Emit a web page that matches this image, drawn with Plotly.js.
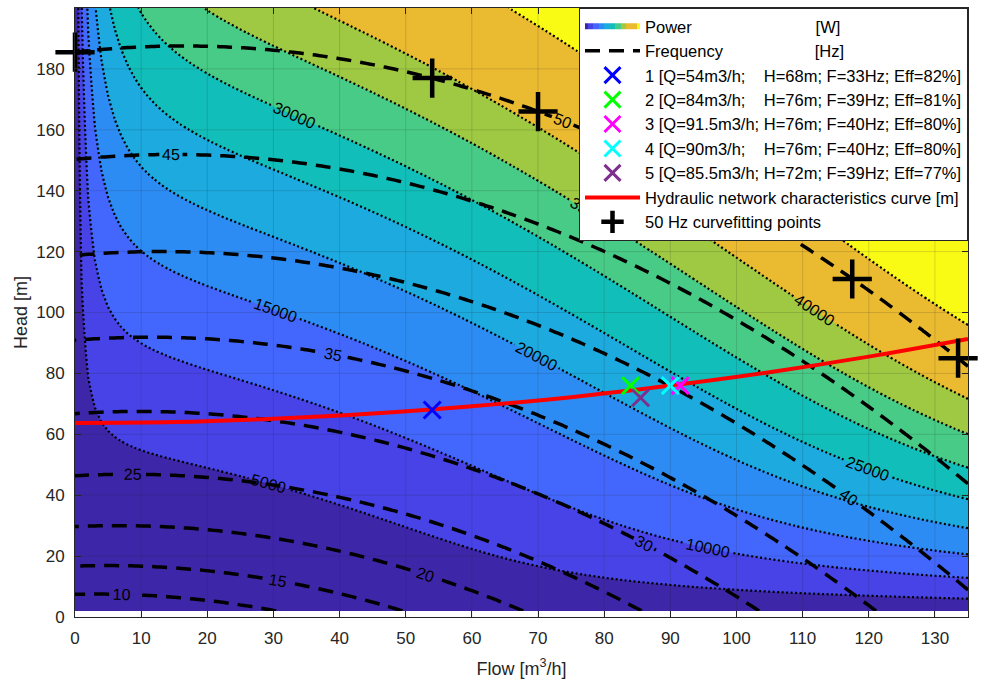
<!DOCTYPE html>
<html>
<head>
<meta charset="utf-8">
<script src="https://cdn.plot.ly/plotly-3.0.1.min.js"></script>
<style>
html,body{margin:0;padding:0;background:#ffffff;}
#chart{width:983px;height:685px;}
</style>
</head>
<body>
<div id="chart"></div>
<script>
// ---------------- data ----------------
// 50 Hz curve-fitting points (black crosses)
const fitFlow = [0, 54, 70, 117.5, 133.5];
const fitHead = [185.5, 177, 166, 111, 85];

// operating points
const pointLabels = [
  "1 [Q=54m3/h;\u00A0\u00A0\u00A0\u00A0H=68m; F=33Hz; Eff=82%]",
  "2 [Q=84m3/h;\u00A0\u00A0\u00A0\u00A0H=76m; F=39Hz; Eff=81%]",
  "3 [Q=91.5m3/h; H=76m; F=40Hz; Eff=80%]",
  "4 [Q=90m3/h;\u00A0\u00A0\u00A0\u00A0H=76m; F=40Hz; Eff=80%]",
  "5 [Q=85.5m3/h; H=72m; F=39Hz; Eff=77%]"
];
const pointFlow = [54, 84, 91.5, 90, 85.5];
const pointHead = [68, 76, 76, 76, 72];
const pointEff  = [82, 81, 80, 80, 77];
const pointColors = ["#0000ff", "#00ff00", "#ff00ff", "#00ffff", "#7e2f8e"];

// hydraulic network characteristics curve
const netFlow = [0, 15, 30, 45, 60, 75, 90, 105, 120, 135];
const netHead = [63.7, 64.0, 65.1, 66.8, 69.2, 72.2, 76.0, 80.4, 85.5, 91.3];

// points read on the power contour lines (flow, head, power W)
const pwrFlow  = [1.0, 2.7, 3.8, 7.3, 1.2, 2.7, 5.3,
                  13.3, 19.4, 24.5, 27.5, 22.4, 26.5, 30, 54, 75.6, 101.7, 92.5,
                  133, 133, 133, 133, 133, 133, 133, 133, 133];
const pwrHead  = [200, 200, 200, 200, 104, 77, 62,
                  54.8, 83.4, 106, 127, 153, 169.8, 184, 177, 182, 50, 76,
                  6.3, 12.9, 20.7, 29.7, 40.6, 50.4, 60.3, 74, 98];
const pwrValue = [10000, 20000, 25000, 30000, 5000, 5000, 5000,
                  5000, 10000, 15000, 20000, 25000, 30000, 35000, 40000, 50000, 20000, 25000,
                  5000, 10000, 15000, 20000, 25000, 30000, 35000, 40000, 50000];

// contour levels
const powerLevelsLow = [5000, 40000, 5000];   // start, end, step (dotted lines)
const powerLevelTop  = 50000;                   // single top dotted line
const freqLevels     = [10, 50, 5];             // start, end, step (dashed lines)

// axis ticks
const xTicks = [0,10,20,30,40,50,60,70,80,90,100,110,120,130];
const yTicks = [0,20,40,60,80,100,120,140,160,180,200];

// ---------------- model (pump affinity laws) ----------------
const RHO_G = 9.81 * 1000 / 3600; // W per (m3/h * m)

function solveLinear(A, b) {
  const n = b.length;
  const M = A.map((r, i) => r.concat([b[i]]));
  for (let c = 0; c < n; c++) {
    let p = c;
    for (let r = c + 1; r < n; r++) if (Math.abs(M[r][c]) > Math.abs(M[p][c])) p = r;
    [M[c], M[p]] = [M[p], M[c]];
    for (let r = 0; r < n; r++) {
      if (r === c) continue;
      const f = M[r][c] / M[c][c];
      for (let k = c; k <= n; k++) M[r][k] -= f * M[c][k];
    }
  }
  return M.map((r, i) => r[n] / r[i]);
}
function leastSquares(rows, ys) {
  const n = rows[0].length;
  const A = Array.from({length: n}, () => new Array(n).fill(0));
  const b = new Array(n).fill(0);
  rows.forEach((r, k) => {
    for (let i = 0; i < n; i++) {
      b[i] += r[i] * ys[k];
      for (let j = 0; j < n; j++) A[i][j] += r[i] * r[j];
    }
  });
  return solveLinear(A, b);
}

// 50 Hz head curve H = c0 + c1 Q + c2 Q^2
const headCoef = leastSquares(fitFlow.map(q => [1, q, q * q]), fitHead);
function speedRatio(Q, H) {
  const a = headCoef[0], b = headCoef[1] * Q, c = headCoef[2] * Q * Q - H;
  return (-b + Math.sqrt(b * b - 4 * a * c)) / (2 * a);
}

// efficiency at 50 Hz-equivalent flow, fitted to the read points
const effQ = [], effV = [];
pwrFlow.forEach((Q, i) => {
  const s = speedRatio(Q, pwrHead[i]);
  effQ.push(Q / s);
  effV.push(RHO_G * Q * pwrHead[i] / pwrValue[i]);
});
pointFlow.forEach((Q, i) => {
  const s = speedRatio(Q, pointHead[i]);
  effQ.push(Q / s);
  effV.push(pointEff[i] / 100);
});
const effBasis = q => { const x = q / 100; return [1, x, x * x, x * x * x, x * x * x * x]; };
const effCoef = leastSquares(effQ.map(effBasis), effV);
function efficiency(q) {
  const bs = effBasis(q);
  let e = 0;
  for (let i = 0; i < bs.length; i++) e += effCoef[i] * bs[i];
  return Math.max(e, 0.03);
}

const gridFlow = Array.from({length: 136}, (_, i) => i);
const gridHead = Array.from({length: 100}, (_, j) => 2 + j * 2);
const powerGrid = gridHead.map(H => gridFlow.map(Q => {
  const s = speedRatio(Q, H);
  return RHO_G * Q * H / efficiency(Q / s);
}));
const freqGrid = gridHead.map(H => gridFlow.map(Q => 50 * speedRatio(Q, H)));

// ---------------- styling ----------------
const FONT = "Liberation Sans, Arial, sans-serif";
const TXT = "#262626";
const bandColors = [
  "#3e26a8", "#4743e6", "#4367fd", "#2d8cf3", "#1caadf",
  "#12beb9", "#48cb86", "#9fc942", "#eaba31", "#eaba31", "#f9fb15"
];
const stepScale = [];
bandColors.forEach((c, i) => {
  const lo = Math.max(0, (i - 0.5) / 10), hi = Math.min(1, (i + 0.5) / 10);
  stepScale.push([lo, c]);
  stepScale.push([hi, c]);
});

const labelFont = {family: FONT, size: 16, color: "#000000"};

const traces = [];
traces.push({
  type: "contour", x: gridFlow, y: gridHead, z: powerGrid,
  colorscale: stepScale, showscale: false,
  contours: {coloring: "fill", showlines: false, start: powerLevelsLow[0], end: powerLevelTop, size: powerLevelsLow[2]},
  line: {width: 0},
  name: "Power" + "\u00A0".repeat(27) + "[W]",
  showlegend: true, legendrank: 1, hoverinfo: "skip"
});
traces.push({
  type: "contour", x: gridFlow, y: gridHead, z: powerGrid,
  showscale: false,
  contours: {coloring: "none", start: powerLevelsLow[0], end: powerLevelsLow[1], size: powerLevelsLow[2],
             showlabels: true, labelfont: labelFont, labelformat: "d"},
  line: {color: "#000000", width: 2.2, dash: "2px,2.5px", smoothing: 1},
  showlegend: false, hoverinfo: "skip"
});
traces.push({
  type: "contour", x: gridFlow, y: gridHead, z: powerGrid,
  showscale: false,
  contours: {coloring: "none", start: powerLevelTop, end: powerLevelTop, size: powerLevelsLow[2],
             showlabels: true, labelfont: labelFont, labelformat: "d"},
  line: {color: "#000000", width: 2.2, dash: "2px,2.5px", smoothing: 1},
  showlegend: false, hoverinfo: "skip"
});
traces.push({
  type: "contour", x: gridFlow, y: gridHead, z: freqGrid,
  showscale: false,
  contours: {coloring: "none", start: freqLevels[0], end: freqLevels[1], size: freqLevels[2],
             showlabels: true, labelfont: labelFont, labelformat: "d"},
  line: {color: "#000000", width: 3.5, dash: "15px,9px", smoothing: 1},
  name: "Frequency" + "\u00A0".repeat(20) + "[Hz]",
  showlegend: true, legendrank: 2, hoverinfo: "skip"
});
traces.push({
  type: "scatter", mode: "lines", x: netFlow, y: netHead,
  line: {color: "#ff0000", width: 4, shape: "spline"},
  name: "Hydraulic network characteristics curve [m]", legendrank: 8
});
pointFlow.forEach((q, i) => {
  traces.push({
    type: "scatter", mode: "markers", x: [q], y: [pointHead[i]],
    marker: {symbol: "x-thin", size: 17, color: pointColors[i], line: {color: pointColors[i], width: 3}},
    name: pointLabels[i], legendrank: 3 + i
  });
});
traces.push({
  type: "scatter", mode: "markers", x: fitFlow, y: fitHead,
  marker: {symbol: "cross-thin", size: 28, color: "#000000", line: {color: "#000000", width: 4.5}},
  name: "50 Hz curvefitting points", legendrank: 9, cliponaxis: false
});

const gridShapes = [];
xTicks.slice(1).forEach(v => gridShapes.push({type: "line", xref: "x", yref: "paper", x0: v, x1: v, y0: 0, y1: 1,
  line: {color: "rgba(38,38,38,0.16)", width: 1}, layer: "above"}));
yTicks.slice(1, -1).forEach(v => gridShapes.push({type: "line", xref: "paper", yref: "y", x0: 0, x1: 1, y0: v, y1: v,
  line: {color: "rgba(38,38,38,0.16)", width: 1}, layer: "above"}));

const axisCommon = {
  showgrid: false, zeroline: false, showline: true, linecolor: TXT, linewidth: 1, mirror: "ticks",
  ticks: "inside", ticklen: 6, tickcolor: TXT, tickwidth: 1, layer: "above traces",
  tickfont: {family: FONT, size: 17, color: TXT}
};

const layout = {
  width: 983, height: 685,
  margin: {l: 75, r: 15, t: 8, b: 68},
  paper_bgcolor: "#ffffff", plot_bgcolor: "#ffffff",
  font: {family: FONT, color: TXT},
  xaxis: Object.assign({}, axisCommon, {
    range: [0, 135], tickvals: xTicks, ticklabelstandoff: 6,
    title: {text: "Flow [m<sup>3</sup>/h]", font: {family: FONT, size: 18, color: TXT}, standoff: 14}
  }),
  yaxis: Object.assign({}, axisCommon, {
    range: [0, 200], tickvals: yTicks, ticklabelstandoff: 6,
    title: {text: "Head [m]", font: {family: FONT, size: 18, color: TXT}, standoff: 3}
  }),
  legend: {
    x: 1, y: 1, xanchor: "right", yanchor: "top",
    bgcolor: "#ffffff", bordercolor: TXT, borderwidth: 1,
    font: {family: FONT, size: 16.5, color: "#000000"},
    itemwidth: 55, tracegroupgap: 0, traceorder: "normal"
  },
  shapes: gridShapes,
  showlegend: true
};

Plotly.newPlot("chart", traces, layout, {displayModeBar: false, staticPlot: true});
</script>
</body>
</html>
